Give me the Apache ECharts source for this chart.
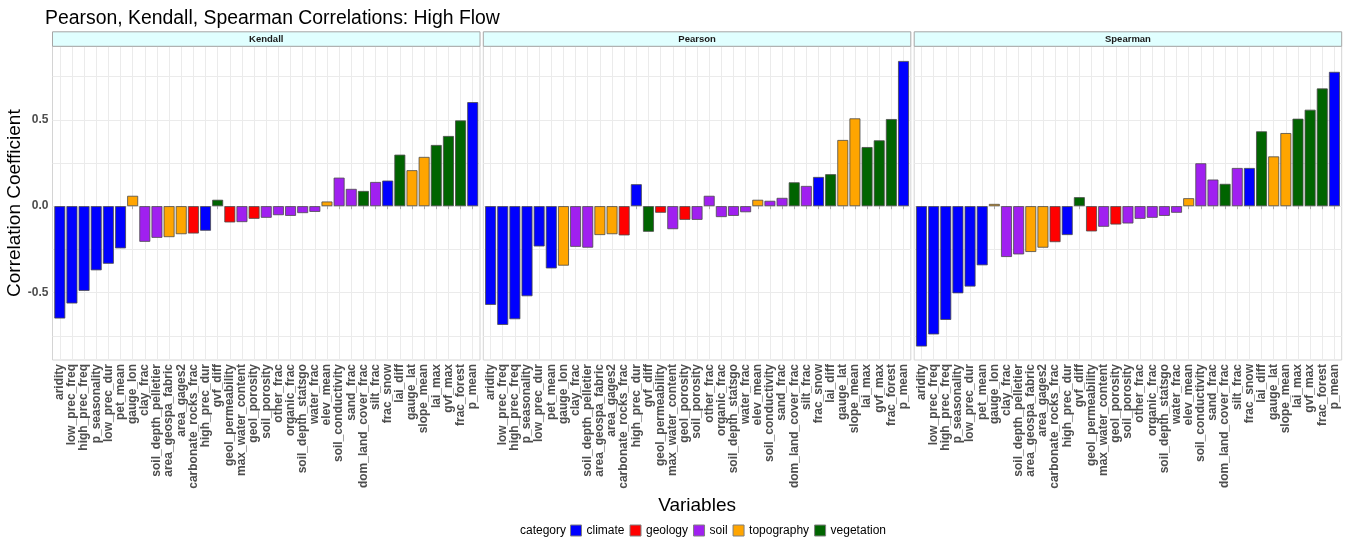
<!DOCTYPE html>
<html>
<head>
<meta charset="utf-8">
<script src="https://cdn.jsdelivr.net/npm/echarts@6/dist/echarts.min.js"></script>
<style>html,body{margin:0;padding:0;background:#fff}#chart{width:1357px;height:539px}</style>
</head>
<body>
<div id="chart"></div>
<script>
const variables = ['aridity','low_prec_freq','high_prec_freq','p_seasonality','low_prec_dur','pet_mean','gauge_lon','clay_frac','soil_depth_pelletier','area_geospa_fabric','area_gages2','carbonate_rocks_frac','high_prec_dur','gvf_diff','geol_permeability','max_water_content','geol_porosity','soil_porosity','other_frac','organic_frac','soil_depth_statsgo','water_frac','elev_mean','soil_conductivity','sand_frac','dom_land_cover_frac','silt_frac','frac_snow','lai_diff','gauge_lat','slope_mean','lai_max','gvf_max','frac_forest','p_mean'];
const variableCategory = ['climate','climate','climate','climate','climate','climate','topography','soil','soil','topography','topography','geology','climate','vegetation','geology','soil','geology','soil','soil','soil','soil','soil','topography','soil','soil','vegetation','soil','climate','vegetation','topography','topography','vegetation','vegetation','vegetation','climate'];
const kendall = [-0.650,-0.563,-0.490,-0.371,-0.333,-0.244,0.060,-0.206,-0.183,-0.179,-0.162,-0.158,-0.142,0.037,-0.094,-0.092,-0.073,-0.067,-0.052,-0.056,-0.040,-0.033,0.027,0.165,0.100,0.088,0.140,0.148,0.298,0.208,0.285,0.354,0.406,0.496,0.602];
const pearson = [-0.571,-0.687,-0.654,-0.521,-0.233,-0.360,-0.344,-0.235,-0.240,-0.167,-0.162,-0.169,0.127,-0.148,-0.038,-0.133,-0.079,-0.079,0.060,-0.063,-0.056,-0.035,0.037,0.031,0.048,0.138,0.117,0.169,0.185,0.383,0.508,0.342,0.381,0.504,0.840];
const spearman = [-0.812,-0.742,-0.658,-0.504,-0.465,-0.342,0.013,-0.294,-0.279,-0.265,-0.240,-0.208,-0.167,0.052,-0.146,-0.119,-0.106,-0.100,-0.073,-0.067,-0.056,-0.038,0.046,0.248,0.154,0.129,0.221,0.221,0.433,0.288,0.423,0.506,0.558,0.681,0.777];
const facetNames = ['Kendall','Pearson','Spearman'];
const facetValues = [kendall, pearson, spearman];
const categoryNames = ['climate','geology','soil','topography','vegetation'];
const categoryColors = ['#0000FF','#FF0000','#A020F0','#FFA500','#006400'];
const yLabelTicks = [-0.5, 0, 0.5];
const yGridTicks = [-0.75, -0.5, -0.25, 0, 0.25, 0.5, 0.75];

const FONT = 'Liberation Sans';
const panelLeft = [52.5, 483.3, 914.2];
const panelW = 427.5, panelTop = 46.3, panelH = 313.7;
const xMin = 0.4, xMax = variables.length + 0.6;
const barW = panelW / (xMax - xMin) * 0.9;
const idx = variables.map((_, i) => i + 1);

const grids = [], xAxes = [], yAxes = [], series = [], graphics = [];
facetNames.forEach((fname, f) => {
  grids.push({left: panelLeft[f], top: panelTop, width: panelW, height: panelH, show: true,
    borderColor: '#D4D4D4', borderWidth: 1, backgroundColor: '#fff', containLabel: false});
  xAxes.push({type: 'value', gridIndex: f, min: xMin, max: xMax,
    axisLine: {show: false},
    axisTick: {show: true, length: 3, lineStyle: {color: '#AAAAAA'}, customValues: idx},
    axisLabel: {customValues: idx, rotate: 90, margin: 4, fontFamily: FONT, fontSize: 12, fontWeight: 'bold', color: '#4D4D4D',
      formatter: v => variables[Math.round(v) - 1] || ''},
    splitLine: {show: true, lineStyle: {color: '#EBEBEB', width: 1}},
    name: f === 1 ? 'Variables' : '', nameLocation: 'middle', nameGap: 135,
    nameTextStyle: {fontFamily: FONT, fontSize: 19, color: '#000'}
  });
  yAxes.push({type: 'value', gridIndex: f, min: -0.89, max: 0.925,
    axisLine: {show: false},
    axisTick: {show: false, customValues: yGridTicks},
    axisLabel: {show: f === 0, customValues: yLabelTicks, margin: 4, fontFamily: FONT, fontSize: 12, fontWeight: 'bold', color: '#4D4D4D',
      formatter: v => v.toFixed(1)},
    splitLine: {show: true, lineStyle: {color: '#EBEBEB', width: 1}},
    name: f === 0 ? 'Correlation Coefficient' : '', nameLocation: 'middle', nameGap: 25,
    nameTextStyle: {fontFamily: FONT, fontSize: 19, color: '#000'}
  });
  categoryNames.forEach((cat, c) => {
    const data = [];
    facetValues[f].forEach((v, i) => { if (variableCategory[i] === cat) data.push([i + 1, v]); });
    series.push({type: 'bar', name: cat, xAxisIndex: f, yAxisIndex: f, data: data,
      barWidth: barW, barGap: '-100%',
      itemStyle: {color: categoryColors[c], borderColor: '#4A4A4A', borderWidth: 0.8},
      emphasis: {disabled: true}, animation: false});
  });
  graphics.push({type: 'rect', shape: {x: panelLeft[f], y: 31.8, width: panelW, height: 14.5},
    style: {fill: '#E0FFFF', stroke: '#A6A6A6', lineWidth: 1}, z: 10});
  graphics.push({type: 'text', x: panelLeft[f] + panelW / 2, y: 39.2,
    style: {text: fname, fontFamily: FONT, fontSize: 9.5, fontWeight: 'bold', fill: '#1A1A1A', align: 'center', verticalAlign: 'middle'}, z: 11});
});
graphics.push({type: 'text', x: 520, y: 531,
  style: {text: 'category', fontFamily: FONT, fontSize: 12, fill: '#000', align: 'left', verticalAlign: 'middle'}});

const chart = echarts.init(document.getElementById('chart'), null, {renderer: 'canvas'});
chart.setOption({
  animation: false,
  backgroundColor: '#fff',
  title: {text: 'Pearson, Kendall, Spearman Correlations: High Flow', left: 45, top: 9, padding: 0,
    textStyle: {fontFamily: FONT, fontSize: 19.4, fontWeight: 'normal', color: '#000'}},
  legend: {data: categoryNames, left: 570, top: 524.5, padding: 0, itemWidth: 11, itemHeight: 11, itemGap: 5,
    icon: 'rect', selectedMode: false,
    textStyle: {fontFamily: FONT, fontSize: 12, color: '#000'},
    itemStyle: {borderColor: '#7F7F7F', borderWidth: 1}},
  grid: grids, xAxis: xAxes, yAxis: yAxes, series: series, graphic: graphics
});
</script>
</body>
</html>
